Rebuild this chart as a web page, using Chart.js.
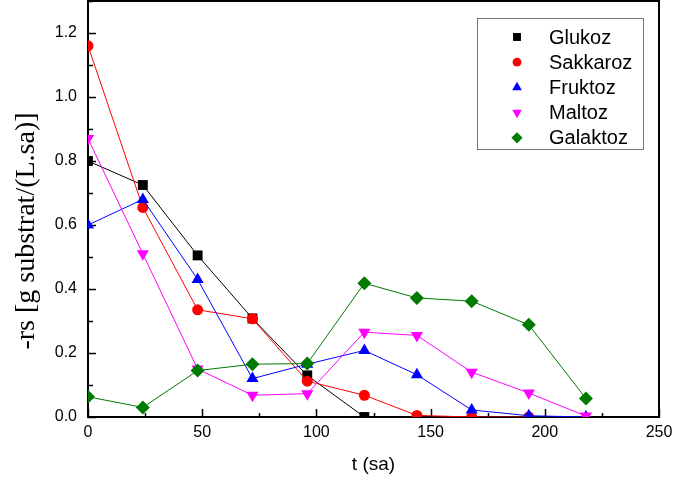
<!DOCTYPE html>
<html>
<head>
<meta charset="utf-8">
<script src="https://cdn.jsdelivr.net/npm/chart.js@4.4.1/dist/chart.umd.min.js"></script>
<style>
  html, body { margin: 0; padding: 0; background: #fff; }
  #chart { display: block; }
</style>
</head>
<body>
<canvas id="chart" width="673" height="483"></canvas>
<script>
(function() {
  'use strict';

  // sampling times (sa)
  var TIMES = [0, 24, 48, 72, 96, 121, 144, 168, 193, 218];

  // -rs values per substrate (null = no sample)
  var GLUKOZ   = [0.80, 0.725, 0.505, 0.308, 0.13, 0.0, null, null, null, null];
  var SAKKAROZ = [1.16, 0.655, 0.335, 0.307, 0.112, 0.068, 0.005, 0.0, 0.0, null];
  var FRUKTOZ  = [0.60, 0.68, 0.43, 0.12, 0.165, 0.208, 0.132, 0.022, 0.004, 0.0];
  var MALTOZ   = [0.87, 0.51, 0.15, 0.068, 0.073, 0.265, 0.255, 0.14, 0.075, 0.003];
  var GALAKTOZ = [0.063, 0.03, 0.145, 0.165, 0.167, 0.418, 0.372, 0.362, 0.288, 0.058];

  var NAMES  = ['Glukoz', 'Sakkaroz', 'Fruktoz', 'Maltoz', 'Galaktoz'];
  var COLORS = ['#000000', '#ff0000', '#0000ff', '#ff00ff', '#007a00'];

  var X_TICKS = [0, 50, 100, 150, 200, 250];
  var Y_TICKS = [0, 0.2, 0.4, 0.6, 0.8, 1.0, 1.2];

  var FONT_SANS  = "'Liberation Sans', Arial, sans-serif";
  var FONT_SERIF = "'Liberation Serif', 'Times New Roman', serif";

  var STYLES = [
    { pointStyle: 'rect', radius: 7, rotation: 0 },
    { pointStyle: 'circle', radius: 5.5, rotation: 0 },
    { pointStyle: 'triangle', radius: 7, rotation: 0 },
    { pointStyle: 'triangle', radius: 7, rotation: 180 },
    { pointStyle: 'rectRot', radius: 7, rotation: 0 }
  ];

  function toPoints(vals) {
    var pts = [];
    for (var i = 0; i < TIMES.length; i++) {
      if (vals[i] !== null) pts.push({ x: TIMES[i], y: vals[i] });
    }
    return pts;
  }

  var series = [GLUKOZ, SAKKAROZ, FRUKTOZ, MALTOZ, GALAKTOZ];
  var datasets = series.map(function(vals, i) {
    return {
      label: NAMES[i],
      data: toPoints(vals),
      borderColor: COLORS[i],
      backgroundColor: COLORS[i],
      borderWidth: 1,
      pointStyle: STYLES[i].pointStyle,
      pointRadius: STYLES[i].radius,
      pointRotation: STYLES[i].rotation,
      pointBorderWidth: 0,
      pointHoverRadius: STYLES[i].radius,
      tension: 0,
      order: 5 - i  // later series drawn on top
    };
  });

  /* frame, inward ticks, axis titles and boxed legend */
  var decor = {
    id: 'decor',
    beforeDatasetsDraw: function(chart) {
      var ctx = chart.ctx, a = chart.chartArea;
      var xs = chart.scales.x, ys = chart.scales.y;
      ctx.save();
      ctx.strokeStyle = '#000';
      ctx.lineWidth = 1.5;
      var v, px, py;
      for (v = 0; v <= 250; v += 25) {
        px = Math.round(xs.getPixelForValue(v)) + 0.5;
        ctx.beginPath();
        ctx.moveTo(px, a.bottom);
        ctx.lineTo(px, a.bottom - (v % 50 === 0 ? 8 : 4));
        ctx.stroke();
      }
      for (v = 0; v <= 13; v += 1) {
        py = Math.round(ys.getPixelForValue(v / 10)) + 0.5;
        ctx.beginPath();
        ctx.moveTo(a.left, py);
        ctx.lineTo(a.left + (v % 2 === 0 ? 8 : 5), py);
        ctx.stroke();
      }
      ctx.lineWidth = 2;
      ctx.strokeRect(a.left, a.top, a.right - a.left, a.bottom - a.top);
      ctx.restore();
    },
    afterDraw: function(chart) {
      var ctx = chart.ctx, a = chart.chartArea;
      ctx.save();
      ctx.fillStyle = '#000';

      // x title
      ctx.font = '19px ' + FONT_SANS;
      ctx.textAlign = 'center';
      ctx.textBaseline = 'middle';
      ctx.fillText('t (sa)', (a.left + a.right) / 2, 465);

      // y title
      ctx.save();
      ctx.translate(27, 231);
      ctx.rotate(-Math.PI / 2);
      ctx.font = '28px ' + FONT_SERIF;
      ctx.fillText('-rs [g substrat/(L.sa)]', 0, 0);
      ctx.restore();

      // legend box
      ctx.strokeStyle = '#777';
      ctx.lineWidth = 1;
      ctx.strokeRect(477.5, 18.5, 166, 131);
      ctx.font = '20px ' + FONT_SANS;
      ctx.textAlign = 'left';
      for (var i = 0; i < NAMES.length; i++) {
        var y = 37 + i * 25.2;
        ctx.fillStyle = COLORS[i];
        Chart.helpers.drawPoint(ctx, {
          pointStyle: STYLES[i].pointStyle,
          radius: STYLES[i].radius * 0.8,
          rotation: STYLES[i].rotation,
          borderWidth: 0
        }, 517, y);
        ctx.fillStyle = '#000';
        ctx.fillText(NAMES[i], 549, y + 1);
      }
      ctx.restore();
    }
  };

  new Chart(document.getElementById('chart'), {
    type: 'line',
    data: { datasets: datasets },
    options: {
      responsive: false,
      animation: false,
      events: [],
      layout: { autoPadding: false, padding: { left: 0, right: 14, top: 1, bottom: 0 } },
      plugins: {
        legend: { display: false },
        tooltip: { enabled: false }
      },
      scales: {
        x: {
          type: 'linear',
          min: 0,
          max: 250,
          afterBuildTicks: function(scale) {
            scale.ticks = X_TICKS.map(function(v) { return { value: v }; });
          },
          afterFit: function(scale) {
            scale.height = 66;
            scale.paddingLeft = 0;
            scale.paddingRight = 0;
          },
          ticks: {
            color: '#000',
            font: { family: FONT_SANS, size: 16 },
            padding: 6,
            maxRotation: 0,
            callback: function(v) { return String(v); }
          },
          grid: { display: false, drawTicks: false },
          border: { display: false }
        },
        y: {
          type: 'linear',
          min: 0,
          max: 1.3,
          afterBuildTicks: function(scale) {
            scale.ticks = Y_TICKS.map(function(v) { return { value: v }; });
          },
          afterFit: function(scale) {
            scale.width = 88;
            scale.paddingTop = 0;
            scale.paddingBottom = 0;
          },
          ticks: {
            color: '#000',
            font: { family: FONT_SANS, size: 16 },
            padding: 11,
            callback: function(v) { return Number(v).toFixed(1); }
          },
          grid: { display: false, drawTicks: false },
          border: { display: false }
        }
      }
    },
    plugins: [decor]
  });
})();
</script>
</body>
</html>
